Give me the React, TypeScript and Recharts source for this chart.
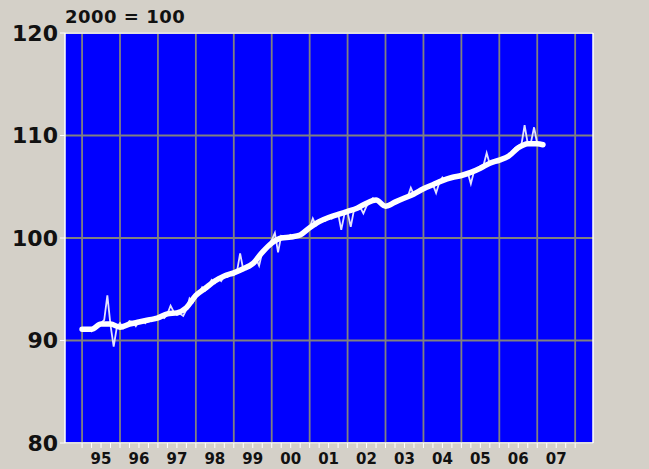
import React from "react";
import {
  LineChart,
  Line,
  XAxis,
  YAxis,
  CartesianGrid,
  ReferenceLine,
} from "recharts";

// monthly index, Jan 1995 .. Feb 2007
const monthlyStart = 1995;
const monthlyIndex = [
  91.0, 91.2, 91.1, 90.9, 91.3, 91.5, 91.7, 92.0, 94.4, 91.5, 89.4, 91.3,
  91.7, 91.2, 91.5, 91.9, 91.8, 91.4, 91.9, 92.0, 91.7, 92.1, 91.9, 92.3,
  92.1, 92.4, 92.2, 92.6, 93.4, 92.8, 92.5, 92.6, 92.4, 93.0, 94.1, 93.7,
  94.2, 94.6, 95.2, 94.9, 95.4, 95.9, 95.6, 96.1, 95.8, 96.3, 96.2, 96.5,
  96.4, 96.7, 98.5, 96.9, 97.3, 97.1, 97.5, 98.0, 97.3, 98.6, 99.0, 99.3,
  99.8, 100.5, 98.6, 100.2, 100.0, 100.1, 100.3, 100.0, 100.2, 100.4, 100.6, 100.9,
  101.0, 101.9, 101.2, 101.5, 101.8, 101.7, 102.1, 101.9, 102.2, 102.4, 100.8, 102.3,
  102.5, 101.1, 102.7, 102.8, 103.0, 102.4, 103.1, 103.6, 103.9, 103.7, 103.5, 103.3,
  103.1, 103.0, 103.3, 103.5, 103.6, 103.8, 103.9, 104.0, 104.9, 104.2, 104.4, 104.6,
  104.7, 104.9, 105.0, 105.2, 104.4, 105.4, 105.9, 105.6, 105.7, 105.8, 106.0, 106.1,
  106.2, 106.1, 106.4, 105.3, 106.5, 106.8, 107.0, 107.1, 108.3, 107.2, 107.5, 107.6,
  107.7, 107.8, 107.9, 108.1, 108.4, 108.8, 109.0, 109.1, 111.0, 109.2, 109.3, 110.8,
  109.2, 109.1,
];

// smoothed trend (thick line)
const trendYear = [
  1995.0, 1995.25, 1995.5, 1995.75, 1996.0, 1996.25, 1996.5, 1996.75,
  1997.0, 1997.25, 1997.5, 1997.75, 1998.0, 1998.25, 1998.5, 1998.75,
  1999.0, 1999.25, 1999.5, 1999.75, 2000.0, 2000.25, 2000.5, 2000.75,
  2001.0, 2001.25, 2001.5, 2001.75, 2002.0, 2002.25, 2002.5, 2002.75,
  2003.0, 2003.25, 2003.5, 2003.75, 2004.0, 2004.25, 2004.5, 2004.75,
  2005.0, 2005.25, 2005.5, 2005.75, 2006.0, 2006.25, 2006.5, 2006.75,
  2007.0, 2007.15,
];
const trendIndex = [
  91.1, 91.1, 91.6, 91.6, 91.3, 91.6, 91.8, 92.0,
  92.2, 92.6, 92.7, 93.2, 94.4, 95.1, 95.8, 96.3,
  96.6, 97.0, 97.5, 98.6, 99.5, 100.0, 100.1, 100.3,
  101.0, 101.6, 102.0, 102.3, 102.6, 102.9, 103.4, 103.7,
  103.1, 103.5, 103.9, 104.3, 104.8, 105.2, 105.6, 105.9,
  106.1, 106.4, 106.8, 107.3, 107.6, 108.0, 108.8, 109.2,
  109.2, 109.1,
];

const years = [
  1995, 1996, 1997, 1998, 1999, 2000, 2001, 2002, 2003, 2004, 2005, 2006,
  2007, 2008,
];
const yearLabels = [
  "95", "96", "97", "98", "99", "00", "01", "02", "03", "04", "05", "06", "07",
];
const yTicks = [80, 90, 100, 110, 120];

const monthlyData = monthlyIndex.map((v, i) => ({
  t: monthlyStart + i / 12,
  v,
}));
const trendData = trendYear.map((t, i) => ({ t, v: trendIndex[i] }));

// quarter ticks between year lines, label sits on the mid-year one
const quarterTicks: number[] = [];
years.slice(0, -1).forEach((y) => {
  [0, 0.25, 0.5, 0.75].forEach((q) => quarterTicks.push(y + q));
});
quarterTicks.push(years[years.length - 1]);

const FONT = "'DejaVu Sans', Verdana, sans-serif";
const BG = "#d4d0c8";
const GRID = "#808080";

function YearTick(props: any) {
  const { x, y, payload } = props;
  const val = payload.value;
  const frac = val - Math.floor(val);
  if (Math.abs(frac - 0.5) > 0.01) return <g />;
  const idx = Math.floor(val) - years[0];
  return (
    <text
      x={x}
      y={y + 16}
      textAnchor="middle"
      fontFamily={FONT}
      fontWeight="bold"
      fontSize={15}
      fill="#111"
    >
      {yearLabels[idx]}
    </text>
  );
}

const yTickStyle = {
  fontFamily: FONT,
  fontWeight: "bold",
  fontSize: 22,
  fill: "#111",
};

export default function App() {
  const domain: [number, number] = [1994.55, 2008.47];
  return (
    <div
      style={{
        position: "absolute",
        left: 0,
        top: 0,
        width: 649,
        height: 469,
        background: BG,
        overflow: "hidden",
      }}
    >
      <div
        style={{
          position: "absolute",
          left: 65,
          top: 8,
          lineHeight: "18px",
          fontFamily: FONT,
          fontWeight: "bold",
          fontSize: 18,
          letterSpacing: 0.5,
          color: "#111",
          whiteSpace: "nowrap",
        }}
      >
        2000 = 100
      </div>
      <LineChart
        width={649}
        height={469}
        margin={{ top: 33, right: 0, bottom: 0, left: 0 }}
      >
        <CartesianGrid
          yAxisId="left"
          fill="#0000ff"
          fillOpacity={1}
          stroke={GRID}
          strokeWidth={1.8}
          verticalValues={years}
        />
        <XAxis
          type="number"
          dataKey="t"
          domain={domain}
          ticks={quarterTicks}
          interval={0}
          allowDataOverflow
          height={26}
          axisLine={{ stroke: "#ffffff", strokeWidth: 1.5 }}
          tickLine={{ stroke: "#ffffff", strokeWidth: 1 }}
          tickSize={5}
          tickMargin={0}
          tick={<YearTick />}
        />
        <YAxis
          yAxisId="left"
          domain={[80, 120]}
          ticks={yTicks}
          width={65}
          axisLine={{ stroke: "#ffffff", strokeWidth: 1.5 }}
          tickLine={{ stroke: "#ffffff" }}
          tickSize={5}
          tickMargin={2}
          tick={yTickStyle}
        />
        <YAxis
          yAxisId="right"
          orientation="right"
          domain={[80, 120]}
          ticks={yTicks}
          width={56}
          axisLine={{ stroke: "#ffffff", strokeWidth: 1.5 }}
          tickLine={{ stroke: "#ffffff" }}
          tickSize={5}
          tickMargin={1}
          tick={yTickStyle}
        />
        <ReferenceLine
          yAxisId="left"
          y={120}
          stroke="#ffffff"
          strokeWidth={1.5}
        />
        <Line
          yAxisId="left"
          data={monthlyData}
          dataKey="v"
          type="linear"
          stroke="#e2e2ff"
          strokeWidth={1.8}
          dot={false}
          isAnimationActive={false}
        />
        <Line
          yAxisId="left"
          data={trendData}
          dataKey="v"
          type="monotone"
          stroke="#ffffff"
          strokeWidth={5.5}
          strokeLinecap="round"
          strokeLinejoin="round"
          dot={false}
          isAnimationActive={false}
        />
      </LineChart>
    </div>
  );
}
